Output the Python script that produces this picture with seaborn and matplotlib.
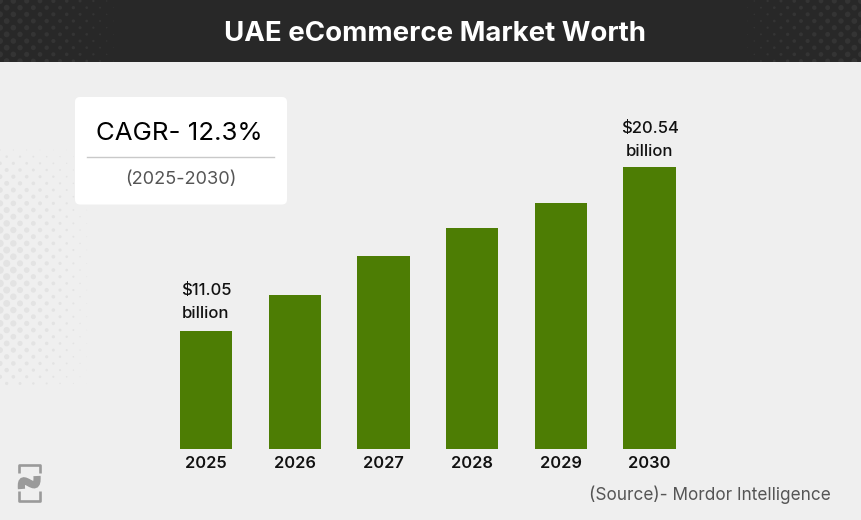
import numpy as np
import pandas as pd
import seaborn as sns
import matplotlib
matplotlib.use("Agg")
import matplotlib.pyplot as plt
from matplotlib.patches import FancyBboxPatch, Rectangle, PathPatch
from matplotlib.path import Path

years = ["2025", "2026", "2027", "2028", "2029", "2030"]
market_worth = [11.05, 13.13, 15.39, 17.01, 18.46, 20.54]
title_text = "UAE eCommerce Market Worth"
source_text = "(Source)- Mordor Intelligence"
cagr_text = "CAGR- 12.3%"
period_text = "(2025-2030)"
first_label = "$11.05\nbillion"
last_label = "$20.54\nbillion"

W, H = 861, 520
FONT = "Inter"
plt.rcParams["font.family"] = FONT
BG = "#efefef"
GREEN = "#4d7d04"

fig = plt.figure(figsize=(W / 100, H / 100), dpi=100, facecolor=BG)

# pixel-space backdrop layer
bg = fig.add_axes([0, 0, 1, 1], zorder=0)
bg.set_xlim(0, W)
bg.set_ylim(H, 0)
bg.axis("off")

header = Rectangle((0, 0), W, 62, fc="#282828", ec="none", zorder=1)
bg.add_patch(header)


def halftone(x_max, y_min, y_max, pitch):
    rows = np.arange(y_min, y_max, pitch)
    xs, ys = [], []
    for i, y in enumerate(rows):
        col = np.arange(pitch if i % 2 else 0, x_max, 2 * pitch)
        xs.extend(col)
        ys.extend([y] * len(col))
    return np.array(xs, float), np.array(ys, float)


# header halftone, fading towards the centre
hx, hy = halftone(118, 1, 62, 6.67)
hd = 6.0 * np.clip(1 - hx / 118, 0, 1) ** 0.6
for xs in (hx, W - hx):
    art = bg.scatter(xs, hy, s=(hd * 0.72) ** 2, c="#343434", lw=0, zorder=2)
    art.set_clip_path(header)

# side halftone on the light background
lx, ly = halftone(92, 150, 385, 6.67)
envelope = np.sqrt(np.clip(1 - ((ly - 273) / 125) ** 2, 0, 1))
ld = 7.5 * np.clip(1 - lx / 92, 0, 1) ** 0.8 * envelope
bg.scatter(lx, ly, s=(ld * 0.72) ** 2, c="#e3e3e3", lw=0, zorder=2)

# CAGR card
bg.add_patch(FancyBboxPatch((79, 101), 204, 99.5,
                            boxstyle="round,pad=4,rounding_size=5",
                            fc="white", ec="none", zorder=3))
bg.plot([87, 274], [156.5, 156.5], color="#c9c9c9", lw=1, zorder=4)

# bottom-left logo mark
LOGO = "#9a9a9a"
for y_open, y_edge in [(473, 465), (491, 501)]:
    bg.add_patch(PathPatch(Path([(19.3, y_open), (19.3, y_edge), (39.8, y_edge), (39.8, y_open)]),
                           fc="none", ec=LOGO, lw=1.9, joinstyle="round", zorder=3))
wave = Path([(21.5, 489), (19.5, 467), (38.5, 499), (37, 476)],
            [Path.MOVETO, Path.CURVE4, Path.CURVE4, Path.CURVE4])
bg.add_patch(PathPatch(wave, fc="none", ec=LOGO, lw=5.2, capstyle="butt", zorder=3))

# header and card text
bg.text(W / 2 + 4, 34, title_text, color="white", fontsize=19.9, fontweight="bold",
        ha="center", va="center", zorder=5)
bg.text(179, 134, cagr_text, color="black", fontsize=18.6, ha="center", va="center", zorder=5)
bg.text(181, 179.5, period_text, color="#555555", fontsize=13.1, ha="center", va="center", zorder=5)
bg.text(831, 495, source_text, color="#555555", fontsize=12.4, ha="right", va="center", zorder=5)

# bar chart, baseline at pixel y=449; value axis is truncated as in the source
ax_left, ax_right, ax_top, ax_bottom = 161.6, 693.9, 62, 449
ax = fig.add_axes([ax_left / W, 1 - ax_bottom / H, (ax_right - ax_left) / W, (ax_bottom - ax_top) / H],
                  zorder=2)
ax.patch.set_alpha(0)
df = pd.DataFrame({"year": years, "worth": market_worth})
sns.barplot(data=df, x="year", y="worth", color=GREEN, saturation=1, width=0.59, ax=ax)
ax.set_xlim(-0.5, 5.5)
ax.set_ylim(4.22, 4.22 + (ax_bottom - ax_top) / 17.28)
ax.set_xlabel("")
ax.set_ylabel("")
ax.set_yticks([])
sns.despine(ax=ax, left=True, bottom=True)
ax.tick_params(axis="x", length=0, pad=5, labelsize=11.8, labelcolor="#111111")
for t in ax.get_xticklabels():
    t.set_fontweight("semibold")

for label, idx, off in [(first_label, 0, 7), (last_label, 5, 5.5)]:
    ax.annotate(label, (idx, market_worth[idx]), xytext=(0, off), textcoords="offset points",
                ha="center", va="bottom", multialignment="center", fontsize=12,
                color="#111111", linespacing=1.72, fontweight="medium")

fig.savefig("out.png", dpi=100, facecolor=BG)
